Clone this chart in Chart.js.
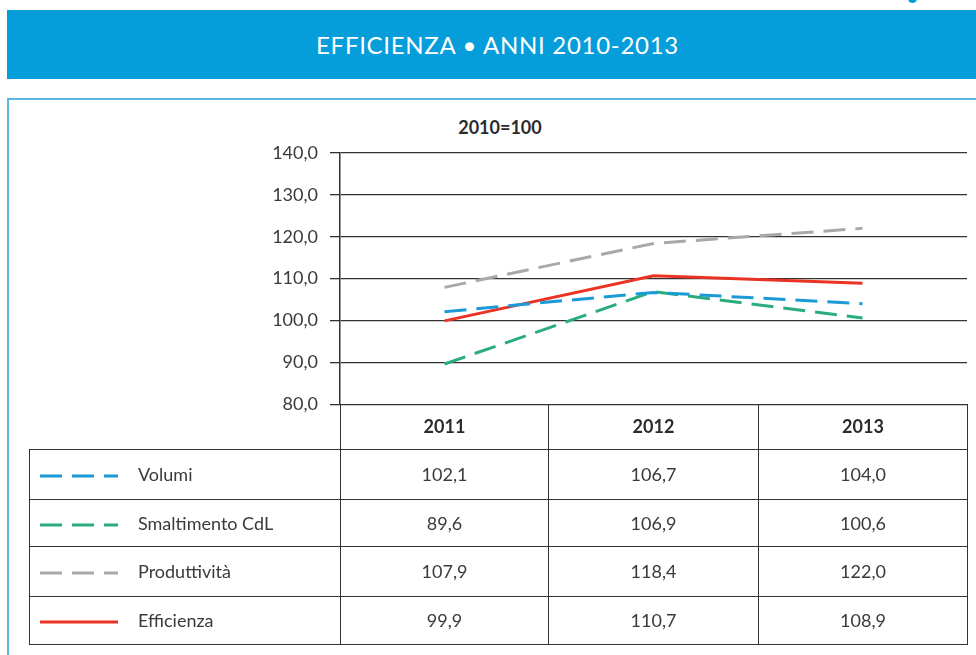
<!DOCTYPE html>
<html lang="it">
<head>
<meta charset="utf-8">
<title>Efficienza 2010-2013</title>
<script src="https://cdn.jsdelivr.net/npm/chart.js@4.4.1/dist/chart.umd.min.js"></script>
<style>
  html, body { margin: 0; padding: 0; background: #fff; }
  body { width: 976px; height: 655px; position: relative; overflow: hidden; font-family: Lato, "Open Sans", sans-serif; color: #3a3a3a; }
  #header { position: absolute; left: 7px; top: 10px; width: 969px; height: 69px; background: #069ddb; color: #fff;
            font-size: 24px; line-height: 69px; text-align: center; letter-spacing: 0.7px; }
  #header span { position: relative; left: 6px; }
  #dot { position: absolute; left: 908px; top: -6px; width: 9px; height: 9px; border-radius: 50%; background: #069ddb; }
  #frame { position: absolute; left: 7px; top: 98px; width: 980px; height: 600px; border: 2px solid #5ab7e2; box-sizing: border-box; }
  #base { position: absolute; left: 400px; top: 116px; width: 200px; text-align: center; font-weight: bold; font-size: 18px; color: #2b2b2b; }
  #chartBox { position: absolute; left: 0; top: 100px; width: 976px; height: 327px; }
  #tbl { position: absolute; left: 29px; top: 404px; border-collapse: collapse; table-layout: fixed; font-size: 18px; color: #3a3a3a; }
  #tbl td { border: 1.5px solid #333; text-align: center; padding: 0; }
  #tbl tr.head td { border-top: none; font-weight: bold; color: #2b2b2b; }
  #tbl tr.head td.empty { border: none; }
  #tbl td.lab { text-align: left; white-space: nowrap; }
  #tbl td.lab svg { vertical-align: middle; margin: 0 20px 0 10px; }
</style>
</head>
<body>
<div id="dot"></div>
<div id="header"><span>EFFICIENZA • ANNI 2010-2013</span></div>
<div id="frame"></div>
<div id="base">2010=100</div>
<div id="chartBox"><canvas id="effChart" width="976" height="327"></canvas></div>
<table id="tbl"></table>

<script>
// --- dati (2010=100) ---
const years = ['2011', '2012', '2013'];
const volumi = [102.1, 106.7, 104.0];
const smaltimento = [89.6, 106.9, 100.6];
const produttivita = [107.9, 118.4, 122.0];
const efficienza = [99.9, 110.7, 108.9];

const seriesNames = ['Volumi', 'Smaltimento CdL', 'Produttività', 'Efficienza'];
const seriesData = [volumi, smaltimento, produttivita, efficienza];
const seriesColors = ['#1b9ad8', '#2aac7c', '#a6a8ab', '#eb3325'];
const seriesDash = [[22, 10], [22, 10], [22, 10], []];

const yMin = 80;
const yMax = 140;
const yStep = 10;

const fmt = (v) => v.toFixed(1).replace('.', ',');

const ctx = document.getElementById('effChart').getContext('2d');

// l'asse y riserva metà etichetta sotto: l'area del grafico finisce a y=404 della pagina
new Chart(ctx, {
    type: 'line',
    data: {
        labels: years,
        datasets: seriesNames.map((name, i) => ({
            label: name,
            data: seriesData[i],
            borderColor: seriesColors[i],
            borderDash: seriesDash[i],
            borderWidth: 3,
            pointRadius: 0,
            tension: 0,
            fill: false
        }))
    },
    options: {
        responsive: false,
        animation: false,
        layout: { padding: { top: 53, bottom: 0, right: 9, left: 0 } },
        plugins: { legend: { display: false }, tooltip: { enabled: false } },
        scales: {
            x: { display: false, offset: true },
            y: {
                min: yMin,
                max: yMax,
                afterFit: (scale) => { scale.width = 340; },
                border: { display: true, color: '#333', width: 1.5 },
                grid: { color: '#333', lineWidth: 1.3, drawTicks: true, tickLength: 10 },
                ticks: {
                    stepSize: yStep,
                    padding: 12,
                    color: '#3a3a3a',
                    font: { family: 'Lato', size: 18 },
                    callback: (v) => fmt(v)
                }
            }
        }
    }
});

// --- tabella sotto al grafico ---
const tbl = document.getElementById('tbl');
const colWidths = [311, 208, 210, 209];
const rowHeights = [45, 50, 47, 50, 48];

const cg = document.createElement('colgroup');
colWidths.forEach(w => {
    const c = document.createElement('col');
    c.style.width = w + 'px';
    cg.appendChild(c);
});
tbl.appendChild(cg);

const head = document.createElement('tr');
head.className = 'head';
head.style.height = rowHeights[0] + 'px';
head.innerHTML = '<td class="empty"></td>' + years.map(y => `<td>${y}</td>`).join('');
tbl.appendChild(head);

seriesNames.forEach((name, i) => {
    const tr = document.createElement('tr');
    tr.style.height = rowHeights[i + 1] + 'px';
    const dash = seriesDash[i].length ? `stroke-dasharray="${seriesDash[i].join(' ')}"` : '';
    tr.innerHTML = `<td class="lab"><svg width="78" height="6"><line x1="0" y1="3" x2="78" y2="3" stroke="${seriesColors[i]}" stroke-width="3" ${dash}/></svg>${name}</td>`
        + seriesData[i].map(v => `<td>${fmt(v)}</td>`).join('');
    tbl.appendChild(tr);
});
</script>
</body>
</html>
